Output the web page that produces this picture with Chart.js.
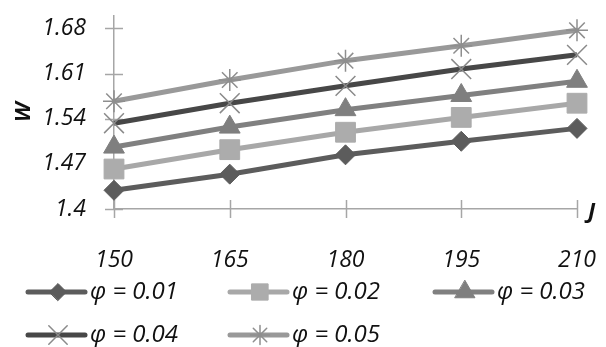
<!DOCTYPE html>
<html>
<head>
<meta charset="utf-8">
<script src="https://cdn.jsdelivr.net/npm/chart.js@4/dist/chart.umd.min.js"></script>
<style>
  html, body { margin: 0; padding: 0; background: #ffffff; }
  #wrap { width: 606px; height: 347px; position: relative; }
</style>
</head>
<body>
<div id="wrap"><canvas id="c" width="606" height="347"></canvas></div>
<script>
// J values along the x axis
const categories = ['150', '165', '180', '195', '210'];

// W for each φ
const phi001 = [1.429, 1.454, 1.484, 1.505, 1.525];
const phi002 = [1.462, 1.492, 1.519, 1.542, 1.564];
const phi003 = [1.496, 1.527, 1.554, 1.576, 1.598];
const phi004 = [1.533, 1.564, 1.591, 1.617, 1.639];
const phi005 = [1.567, 1.600, 1.630, 1.653, 1.677];

const seriesNames = ['φ = 0.01', 'φ = 0.02', 'φ = 0.03', 'φ = 0.04', 'φ = 0.05'];

// W axis range and labelled ticks
const yMin = 1.4;
const yMax = 1.7;
const yTicks = [1.4, 1.47, 1.54, 1.61, 1.68];

const AXIS_COLOR = '#a6a6a6';
const TEXT_COLOR = '#111111';
const FONT_FAMILY = '"Open Sans", "Noto Sans", sans-serif';

const styles = [
  { line: '#5c5c5c', fill: '#5c5c5c', edge: '#5c5c5c', point: 'rectRot', r: 10, lr: 8.5, bw: 1 },
  { line: '#a8a8a8', fill: '#acacac', edge: '#acacac', point: 'rect', r: 14, lr: 11.5, bw: 1 },
  { line: '#808080', fill: '#7f7f7f', edge: '#7f7f7f', point: 'triangle', r: 12, lr: 11.5, bw: 1 },
  { line: '#474747', fill: '#8a8a8a', edge: '#8a8a8a', point: 'crossRot', r: 14, lr: 13, bw: 1.5 },
  { line: '#999999', fill: '#8e8e8e', edge: '#8e8e8e', point: 'star', r: 11, lr: 9.5, bw: 1.5 }
];

const values = [phi001, phi002, phi003, phi004, phi005];

const datasets = values.map((v, i) => ({
  label: seriesNames[i],
  data: v,
  borderColor: styles[i].line,
  backgroundColor: styles[i].fill,
  borderWidth: 5,
  pointStyle: styles[i].point,
  pointRadius: styles[i].r,
  pointHoverRadius: styles[i].r,
  pointBackgroundColor: styles[i].fill,
  pointBorderColor: styles[i].edge,
  pointBorderWidth: styles[i].bw,
  tension: 0,
  fill: false,
  clip: false
}));

// Small tick marks that cross each axis line
const crossTicks = {
  id: 'crossTicks',
  beforeDatasetsDraw(chart) {
    const ctx = chart.ctx;
    const xs = chart.scales.x, ys = chart.scales.y;
    ctx.save();
    ctx.strokeStyle = AXIS_COLOR;
    ctx.lineWidth = 1.5;
    ctx.beginPath();
    xs.ticks.forEach((t, i) => {
      const px = Math.round(xs.getPixelForTick(i)) + 0.5;
      ctx.moveTo(px, xs.top - 9);
      ctx.lineTo(px, xs.top + 9);
    });
    ys.ticks.forEach((t, i) => {
      const py = Math.round(ys.getPixelForTick(i)) + 0.5;
      ctx.moveTo(ys.right - 9, py);
      ctx.lineTo(ys.right + 9, py);
    });
    ctx.stroke();
    ctx.restore();
  }
};

// J label at the end of the x axis, and the two-row legend underneath
const extras = {
  id: 'extras',
  afterDraw(chart) {
    const ctx = chart.ctx;
    const xs = chart.scales.x;
    ctx.save();
    ctx.fillStyle = TEXT_COLOR;
    ctx.font = 'italic bold 22px ' + FONT_FAMILY;
    ctx.textAlign = 'left';
    ctx.textBaseline = 'middle';
    ctx.fillText('J', xs.right + 11, xs.top + 3);

    const cols = [28, 230, 435];
    const rows = [292, 335];
    const lineLen = 57;
    chart.data.datasets.forEach((ds, i) => {
      const x0 = cols[i % 3];
      const y = rows[Math.floor(i / 3)];
      ctx.strokeStyle = ds.borderColor;
      ctx.lineWidth = 5;
      ctx.lineCap = 'round';
      ctx.beginPath();
      ctx.moveTo(x0, y);
      ctx.lineTo(x0 + lineLen, y);
      ctx.stroke();
      ctx.fillStyle = ds.pointBackgroundColor;
      ctx.strokeStyle = ds.pointBorderColor;
      ctx.lineWidth = ds.pointBorderWidth;
      Chart.helpers.drawPoint(ctx, {
        pointStyle: ds.pointStyle,
        radius: styles[i].lr,
        borderWidth: ds.pointBorderWidth,
        rotation: 0
      }, x0 + 30, y);
      ctx.fillStyle = TEXT_COLOR;
      ctx.font = 'italic 24px ' + FONT_FAMILY;
      ctx.textBaseline = 'middle';
      ctx.fillText(ds.label, x0 + lineLen + 5, y);
    });
    ctx.restore();
  }
};

new Chart(document.getElementById('c'), {
  type: 'line',
  data: { labels: categories, datasets },
  options: {
    responsive: false,
    animation: false,
    events: [],
    layout: { padding: { top: 9, right: 29, left: 0, bottom: 0 } },
    plugins: {
      legend: { display: false },
      tooltip: { enabled: false }
    },
    scales: {
      x: {
        type: 'category',
        offset: false,
        grid: { display: false, drawTicks: false },
        border: { display: true, color: AXIS_COLOR, width: 1.5 },
        ticks: {
          color: TEXT_COLOR,
          font: { family: FONT_FAMILY, size: 23, style: 'italic' },
          padding: 38,
          maxRotation: 0,
          autoSkip: false
        },
        afterFit(scale) {
          scale.height = 138;
          scale.paddingLeft = 0;
          scale.paddingRight = 0;
        }
      },
      y: {
        min: yMin,
        max: yMax,
        grid: { display: false, drawTicks: false },
        border: { display: true, color: AXIS_COLOR, width: 1.5 },
        afterBuildTicks(scale) {
          scale.ticks = yTicks.map((v) => ({ value: v }));
        },
        ticks: {
          color: TEXT_COLOR,
          font: { family: FONT_FAMILY, size: 23, style: 'italic' },
          padding: 28,
          callback: (v) => String(Math.round(v * 100) / 100)
        },
        title: {
          display: true,
          text: 'W',
          color: TEXT_COLOR,
          font: { family: FONT_FAMILY, size: 22, weight: 'bold', style: 'italic' },
          padding: { top: 11, bottom: 0 }
        },
        afterFit(scale) {
          scale.width = 114;
          scale.paddingTop = 0;
          scale.paddingBottom = 0;
        }
      }
    }
  },
  plugins: [crossTicks, extras]
});
</script>
</body>
</html>
